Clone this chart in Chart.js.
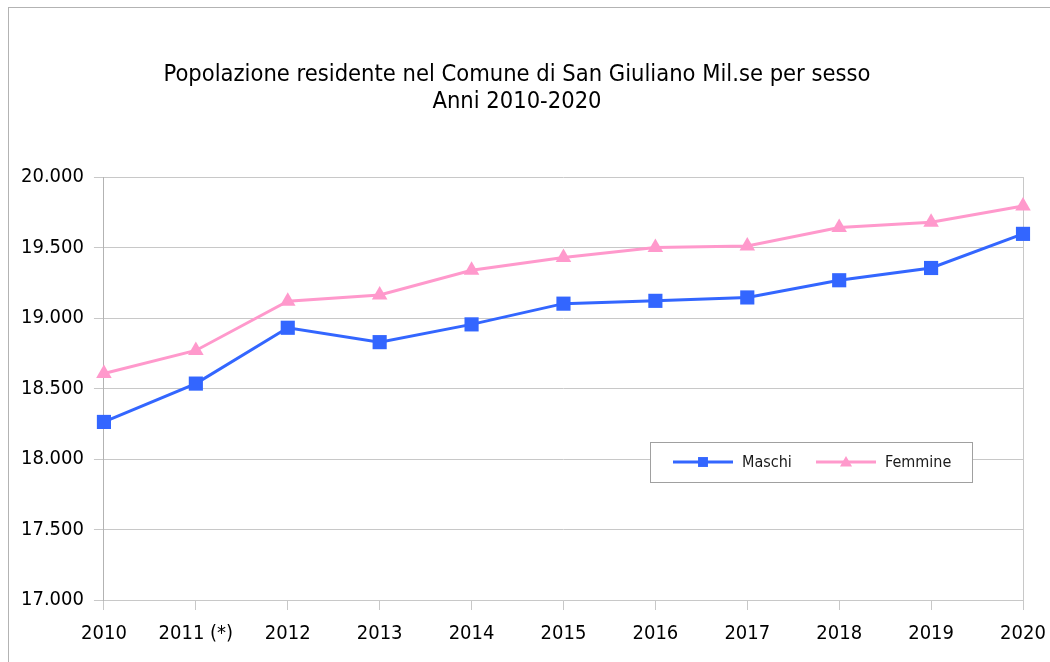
<!DOCTYPE html>
<html>
<head>
<meta charset="utf-8">
<script src="https://cdn.jsdelivr.net/npm/chart.js@4/dist/chart.umd.min.js"></script>
<style>
    body{ margin:0; background:#fff; }
    #cornice{ position:absolute; left:8px; top:7px; width:1100px; height:700px; border-top:1px solid #b3b3b3; border-left:1px solid #b3b3b3; }
    #box{ position:absolute; left:0; top:0; width:1050px; height:662px; }
</style>
</head>
<body>
<div id="cornice"></div>
<div id="box"><canvas id="grafico"></canvas></div>
<script>
//__________ dati __________//
let anni = ['2010','2011 (*)','2012','2013','2014','2015','2016','2017','2018','2019','2020'];
let maschi = [18263, 18535, 18931, 18829, 18955, 19102, 19122, 19146, 19268, 19355, 19597];
let femmine = [18607, 18770, 19119, 19163, 19339, 19430, 19500, 19511, 19642, 19680, 19795];
let yMin = 17000;
let yMax = 20000;
let yPasso = 500;
let titolo = ['Popolazione residente nel Comune di San Giuliano Mil.se per sesso', 'Anni 2010-2020'];

let blu = '#3366ff';
let rosa = '#ff99cc';
let griglia = '#c8c8c8';
let font = 'DejaVu Sans Condensed';

// 20000 -> "20.000"
function formatta(v){
    return String(v).replace(/\B(?=(\d{3})+(?!\d))/g, '.');
}

//__________ legenda dentro il grafico __________//
let legendaInterna = {
    id: 'legendaInterna',
    afterDraw: function(chart){
        let c = chart.ctx;
        let x0 = 650, y0 = 442, w = 322, h = 40;
        c.save();
        c.fillStyle = '#fff';
        c.fillRect(x0, y0, w, h);
        c.strokeStyle = '#a0a0a0';
        c.lineWidth = 1;
        c.strokeRect(x0 + 0.5, y0 + 0.5, w, h);
        let posX = [673, 816];
        let ym = y0 + 20;
        chart.data.datasets.forEach(function(ds, i){
            let x = posX[i];
            c.strokeStyle = ds.borderColor;
            c.lineWidth = 3;
            c.beginPath();
            c.moveTo(x, ym);
            c.lineTo(x + 60, ym);
            c.stroke();
            c.fillStyle = ds.borderColor;
            Chart.helpers.drawPoint(c, { pointStyle: ds.pointStyle, radius: 7, borderWidth: 0 }, x + 30, ym + (ds.pointStyle == 'triangle' ? 1 : 0));
            c.fillStyle = '#1a1a1a';
            c.font = '16px "' + font + '"';
            c.textBaseline = 'middle';
            c.fillText(ds.label, x + 69, ym + 1);
        });
        c.restore();
    }
};

let ctx = document.getElementById('grafico').getContext('2d');
let grafico = new Chart(ctx, {
    type: 'line',
    data: {
        labels: anni,
        datasets: [{
            label: 'Maschi',
            data: maschi,
            borderColor: blu,
            backgroundColor: blu,
            borderWidth: 3,
            pointStyle: 'rect',
            pointRadius: 10,
            pointHoverRadius: 10,
            pointBorderWidth: 0,
            tension: 0
        },{
            label: 'Femmine',
            data: femmine,
            borderColor: rosa,
            backgroundColor: rosa,
            borderWidth: 3,
            pointStyle: 'triangle',
            pointRadius: 9,
            pointHoverRadius: 9,
            pointBorderWidth: 0,
            tension: 0
        }]
    },
    options: {
        responsive: true,
        maintainAspectRatio: false,
        animation: false,
        layout: { padding: { left: 11, right: 27, top: 0, bottom: 4 } },
        plugins: {
            legend: { display: false },
            tooltip: { enabled: false },
            title: {
                display: true,
                text: titolo,
                color: '#000',
                font: { family: font, size: 23.5, weight: 'normal', lineHeight: 1.15 },
                padding: { top: 61, bottom: 62 }
            }
        },
        scales: {
            x: {
                offset: false,
                // l'etichetta 2020 può uscire dall'area, come nell'originale
                afterFit: function(s){ s.paddingRight = 0; },
                grid: {
                    drawOnChartArea: true,
                    color: function(c){ return c.index === anni.length - 1 ? griglia : 'transparent'; },
                    tickColor: griglia,
                    tickLength: 10,
                    lineWidth: 1
                },
                border: { color: griglia },
                ticks: {
                    color: '#000',
                    font: { family: font, size: 20 },
                    padding: 12,
                    maxRotation: 0,
                    autoSkip: false
                }
            },
            y: {
                min: yMin,
                max: yMax,
                grid: { color: griglia, tickColor: griglia, tickLength: 10 },
                border: { color: '#b3b3b3' },
                ticks: {
                    stepSize: yPasso,
                    color: '#000',
                    font: { family: font, size: 20 },
                    padding: 10,
                    callback: function(v){ return formatta(v); }
                }
            }
        }
    },
    plugins: [legendaInterna]
});
</script>
</body>
</html>
